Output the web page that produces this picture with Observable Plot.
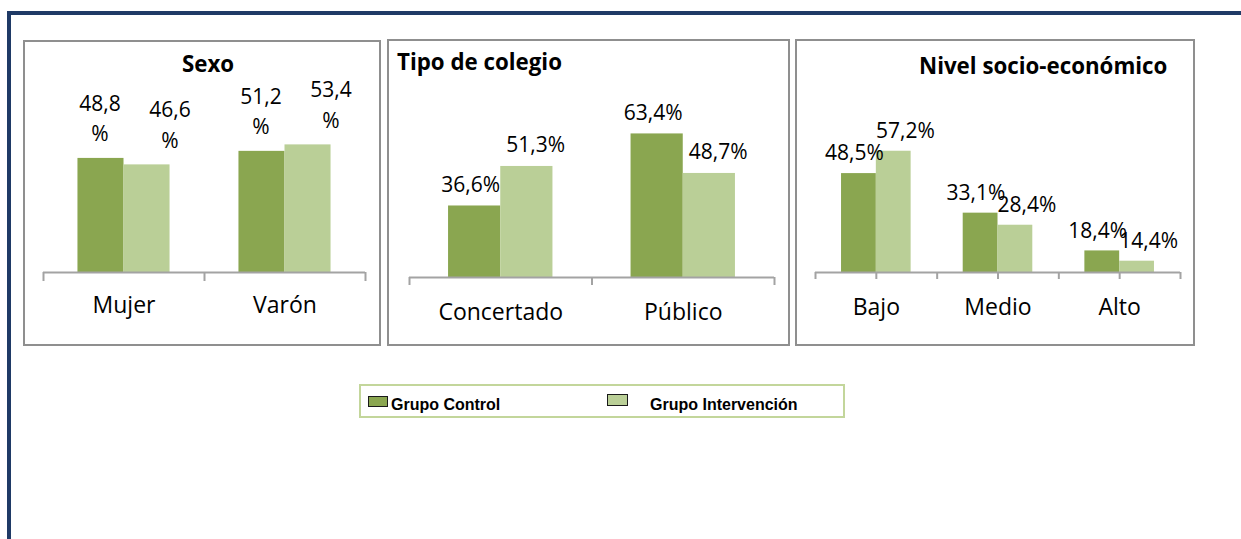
<!DOCTYPE html>
<html>
<head>
<meta charset="utf-8">
<script src="https://cdn.jsdelivr.net/npm/d3@7"></script>
<script src="https://cdn.jsdelivr.net/npm/@observablehq/plot@0.6"></script>
<style>
  html, body { margin: 0; padding: 0; background: #fff; }
  #root { position: relative; width: 1241px; height: 539px; overflow: hidden; font-family: "Open Sans", sans-serif; color: #000; }
  .frame { position: absolute; background: #1f3a66; }
  .panel { position: absolute; border: 2px solid #8f8f8f; box-sizing: border-box; }
  .chart { position: absolute; }
  .chart svg { display: block; overflow: visible; }
  .title { position: absolute; font-weight: 700; font-size: 22.3px; line-height: 1; white-space: nowrap; }
  .legend { position: absolute; border: 2px solid #c3d69b; box-sizing: border-box; }
  .swatch { position: absolute; box-sizing: border-box; border: 1.5px solid #1a1a1a; }
  .ltext { position: absolute; font-family: "Liberation Sans", Arial, sans-serif; font-weight: 700; font-size: 16px; line-height: 1; white-space: nowrap; }
</style>
</head>
<body>
<div id="root"></div>
<script>
// ---- data ----
const series = ["Grupo Control", "Grupo Intervención"];
const titles = ["Sexo", "Tipo de colegio", "Nivel socio-económico"];

const sexoCats = ["Mujer", "Varón"];
const sexoControl = [48.8, 51.2];
const sexoIntervencion = [46.6, 53.4];

const colegioCats = ["Concertado", "Público"];
const colegioControl = [36.6, 63.4];
const colegioIntervencion = [51.3, 48.7];

const nivelCats = ["Bajo", "Medio", "Alto"];
const nivelControl = [48.5, 33.1, 18.4];
const nivelIntervencion = [57.2, 28.4, 14.4];

const colors = ["#8aa650", "#bacf97"];
const axisColor = "#a3a3a3";

const root = document.getElementById("root");

function add(cls, css, text) {
  const el = document.createElement("div");
  el.className = cls;
  Object.assign(el.style, css);
  if (text != null) el.textContent = text;
  root.appendChild(el);
  return el;
}

// outer frame
add("frame", {left: "7px", top: "11px", width: "1234px", height: "4px"});
add("frame", {left: "7px", top: "11px", width: "4px", height: "528px"});

function fmt(v, wrap) {
  return v.toFixed(1).replace(".", ",") + (wrap ? "\n%" : "%");
}

function panel(cfg) {
  const {cats, ctrl, intv, box, ml, mr, mt, mb, yMin, yTop, labelDx, labelDy, wrap, tickPad, tickLen, centerTicks} = cfg;
  const [left, top, width, height] = box;
  add("panel", {left: left + "px", top: top + "px", width: width + "px", height: height + "px"});
  const rows = cats.map((c, i) => ({cat: c, ctrl: ctrl[i], intv: intv[i]}));
  const step = (width - ml - mr) / cats.length;
  const barW = step * 0.286;
  const marks = [
    Plot.barY(rows, {x: "cat", y1: yMin, y2: "ctrl", fill: colors[0], insetLeft: step / 2 - barW, insetRight: step / 2}),
    Plot.barY(rows, {x: "cat", y1: yMin, y2: "intv", fill: colors[1], insetLeft: step / 2, insetRight: step / 2 - barW}),
    Plot.ruleY([yMin], {stroke: axisColor, strokeWidth: 2}),
    Plot.ruleX(cats, {x: d => d, y1: yMin, y2: yMin, insetBottom: -tickLen, dx: -step / 2, stroke: axisColor, strokeWidth: 2}),
    Plot.ruleX(cats.slice(-1), {x: d => d, y1: yMin, y2: yMin, insetBottom: -tickLen, dx: step / 2, stroke: axisColor, strokeWidth: 2}),
    Plot.text(rows, {x: "cat", y: "ctrl", text: d => fmt(d.ctrl, wrap), dx: labelDx[0], dy: labelDy, fontSize: 21, lineHeight: 1.45, lineAnchor: "middle", fill: "#000"}),
    Plot.text(rows, {x: "cat", y: "intv", text: d => fmt(d.intv, wrap), dx: labelDx[1], dy: labelDy, fontSize: 21, lineHeight: 1.45, lineAnchor: "middle", fill: "#000"})
  ];
  if (centerTicks) {
    marks.push(Plot.ruleX(cats, {x: d => d, y1: yMin, y2: yMin, insetBottom: -tickLen, stroke: axisColor, strokeWidth: 2}));
  }
  const chart = Plot.plot({
    width, height,
    marginLeft: ml, marginRight: mr, marginTop: mt, marginBottom: mb,
    style: {fontFamily: "'Open Sans', sans-serif", fontSize: "23px", color: "#000", background: "transparent"},
    x: {domain: cats, padding: 0, round: false, label: null, tickSize: 0, tickPadding: tickPad},
    y: {domain: [yMin, yTop], axis: null},
    marks
  });
  const holder = add("chart", {left: left + "px", top: top + "px"});
  holder.appendChild(chart);
}

panel({cats: sexoCats, ctrl: sexoControl, intv: sexoIntervencion,
  box: [23, 40, 358, 306], ml: 20, mr: 16, mt: 10, mb: 74, yMin: 10, yTop: 85.5,
  labelDx: [-24, 46], labelDy: -42, wrap: true, tickPad: 24, tickLen: 9, centerTicks: false});

panel({cats: colegioCats, ctrl: colegioControl, intv: colegioIntervencion,
  box: [387, 39, 403, 307], ml: 22, mr: 16, mt: 10, mb: 69, yMin: 10, yTop: 94.8,
  labelDx: [-30, 35], labelDy: -24, wrap: false, tickPad: 26, tickLen: 8, centerTicks: false});

panel({cats: nivelCats, ctrl: nivelControl, intv: nivelIntervencion,
  box: [795, 39, 400, 307], ml: 20, mr: 15, mt: 10, mb: 74, yMin: 10, yTop: 96.8,
  labelDx: [-22, 29], labelDy: -23, wrap: false, tickPad: 26, tickLen: 7, centerTicks: true});

// titles
add("title", {left: "208px", top: "53px", transform: "translateX(-50%)"}, titles[0]);
add("title", {left: "397px", top: "51px"}, titles[1]);
add("title", {left: "919px", top: "55px"}, titles[2]);

// legend
add("legend", {left: "359px", top: "384px", width: "486px", height: "34px"});
const legendPos = [
  {sx: 368, sy: 396, sw: 20, sh: 11, tx: 391},
  {sx: 607, sy: 394, sw: 21, sh: 12, tx: 650}
];
series.forEach((s, i) => {
  const p = legendPos[i];
  add("swatch", {left: p.sx + "px", top: p.sy + "px", width: p.sw + "px", height: p.sh + "px", background: colors[i]});
  add("ltext", {left: p.tx + "px", top: "397px"}, s);
});
</script>
</body>
</html>
